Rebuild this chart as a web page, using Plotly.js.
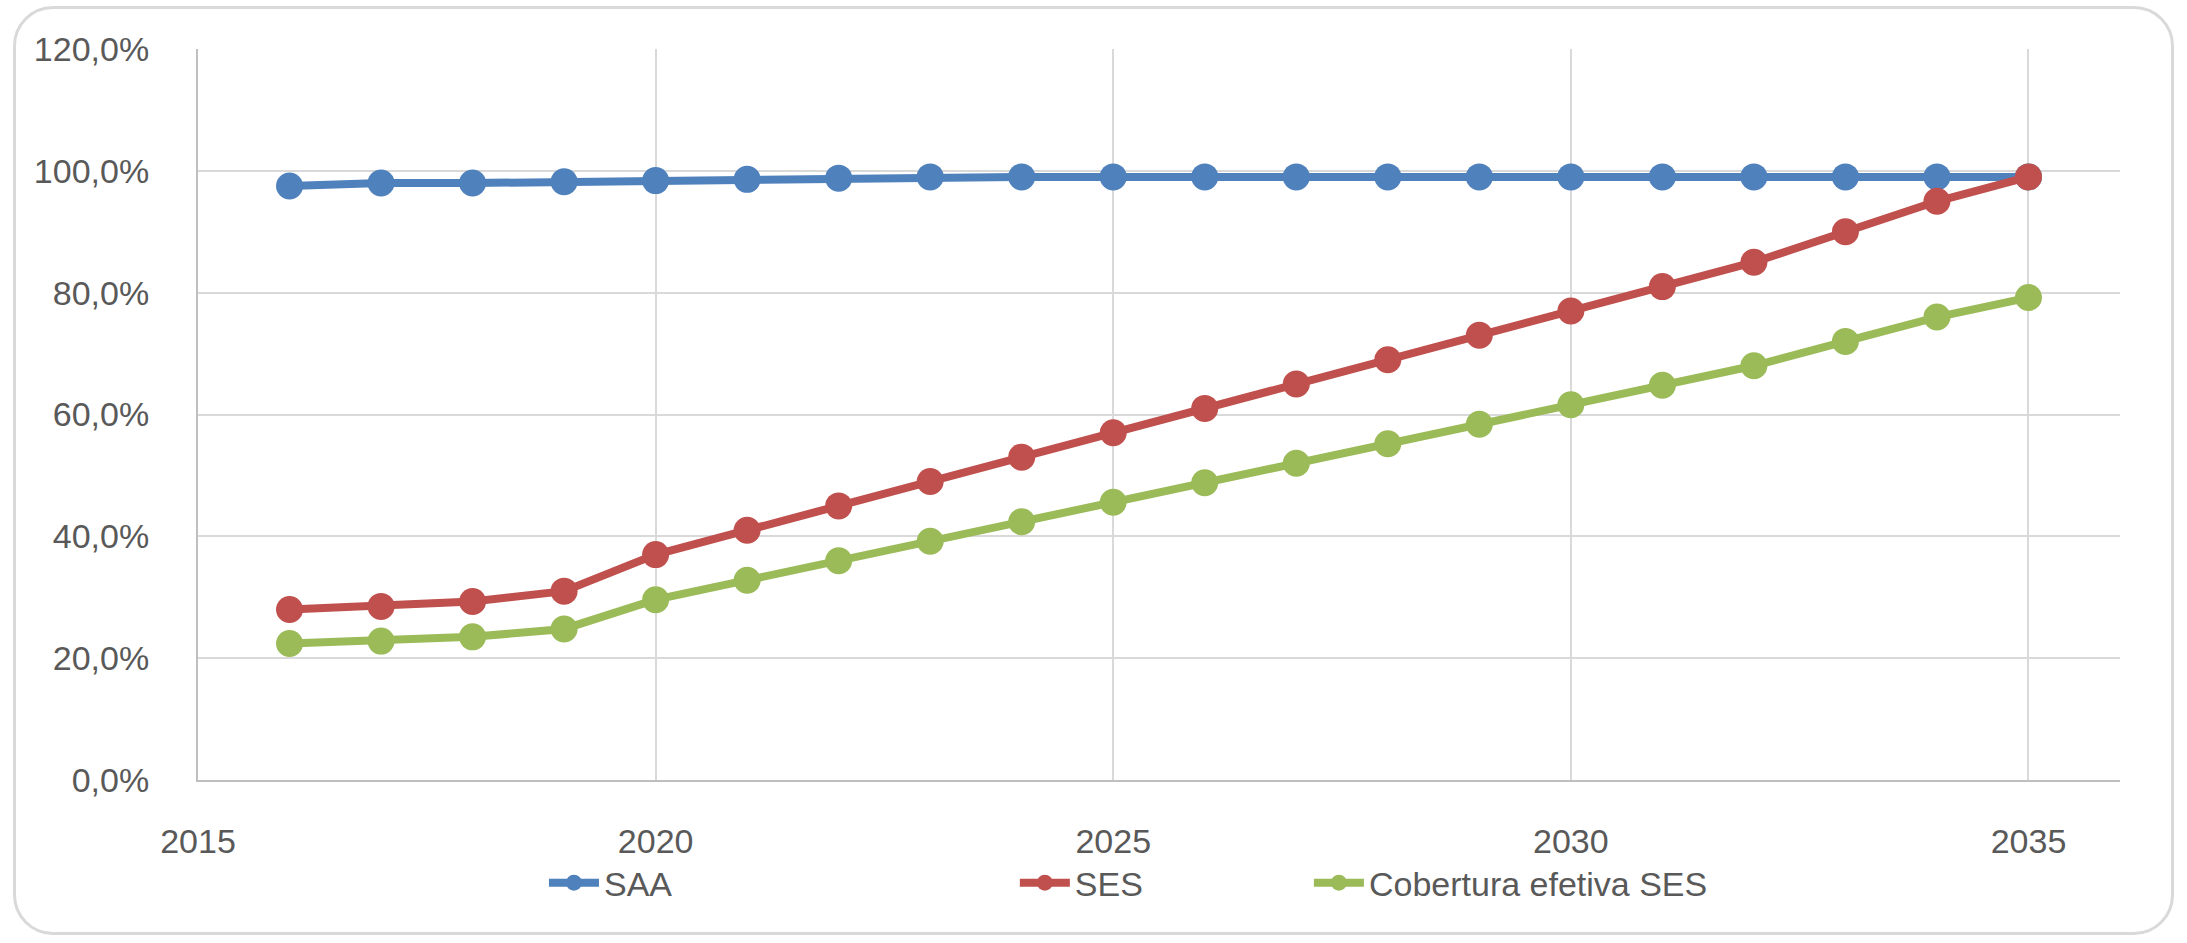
<!DOCTYPE html>
<html>
<head>
<meta charset="utf-8">
<script src="https://cdn.plot.ly/plotly-3.0.1.min.js"></script>
<style>
  html, body { margin: 0; padding: 0; background: #ffffff; }
  #frame { position: absolute; left: 13px; top: 6px; width: 2161px; height: 929px;
           border: 3px solid #d9d9d9; border-radius: 40px; box-sizing: border-box; }
  #chart { position: absolute; left: 0; top: 0; width: 2187px; height: 943px; }
</style>
</head>
<body>
<div id="frame"></div>
<div id="chart"></div>
<script>
const years = [2016, 2017, 2018, 2019, 2020, 2021, 2022, 2023, 2024, 2025,
               2026, 2027, 2028, 2029, 2030, 2031, 2032, 2033, 2034, 2035];
const saa = [97.5, 98.0, 98.0, 98.2, 98.4, 98.6, 98.8, 99.0, 99.0, 99.0,
             99.0, 99.0, 99.0, 99.0, 99.0, 99.0, 99.0, 99.0, 99.0, 99.0];
const ses = [28.0, 28.5, 29.3, 31.0, 37.0, 41.0, 45.0, 49.0, 53.0, 57.0,
             61.0, 65.0, 69.0, 73.0, 77.0, 81.0, 85.0, 90.0, 95.0, 99.0];
const cobertura = [22.4, 22.8, 23.5, 24.8, 29.6, 32.8, 36.0, 39.2, 42.4, 45.6,
                   48.8, 52.0, 55.2, 58.4, 61.6, 64.8, 68.0, 72.0, 76.0, 79.2];
const seriesNames = ["SAA", "SES", "Cobertura efetiva SES"];
const xTicks = [2015, 2020, 2025, 2030, 2035];
const yTicks = [0, 20, 40, 60, 80, 100, 120];
const yTickText = ["0,0%", "20,0%", "40,0%", "60,0%", "80,0%", "100,0%", "120,0%"];

const colors = ["#4F81BD", "#C0504D", "#9BBB59"];
const values = [saa, ses, cobertura];
const legends = ["legend", "legend2", "legend3"];

const traces = values.map((v, i) => ({
  x: years, y: v, name: seriesNames[i], type: "scatter", mode: "lines+markers",
  line: { color: colors[i], width: 8 },
  marker: { color: colors[i], size: 27 },
  legend: legends[i]
}));

const font = { family: "Liberation Sans, Arial, sans-serif", size: 34, color: "#595959" };
const legBase = { orientation: "h", yanchor: "middle", xanchor: "left", y: -0.141,
  font: font, bgcolor: "rgba(0,0,0,0)", itemwidth: 50, itemsizing: "trace" };

const layout = {
  width: 2187, height: 943,
  margin: { l: 198, r: 67, t: 49, b: 163 },
  paper_bgcolor: "rgba(0,0,0,0)", plot_bgcolor: "rgba(0,0,0,0)",
  font: font,
  showlegend: true,
  legend: Object.assign({}, legBase, { x: 0.18 }),
  legend2: Object.assign({}, legBase, { x: 0.425 }),
  legend3: Object.assign({}, legBase, { x: 0.578 }),
  xaxis: {
    range: [2015, 2036], tickvals: xTicks, ticktext: xTicks.map(String),
    showgrid: true, gridcolor: "#d9d9d9", gridwidth: 2,
    showline: true, linecolor: "#bfbfbf", linewidth: 2,
    zeroline: false, ticks: "", ticklabelstandoff: 30, tickfont: font
  },
  yaxis: {
    range: [0, 120], tickvals: yTicks, ticktext: yTickText,
    showgrid: true, gridcolor: "#d9d9d9", gridwidth: 2,
    showline: true, linecolor: "#bfbfbf", linewidth: 2,
    zeroline: false, ticks: "", ticklabelstandoff: 40, tickfont: font
  }
};

Plotly.newPlot("chart", traces, layout, { displayModeBar: false, staticPlot: true });
</script>
</body>
</html>
